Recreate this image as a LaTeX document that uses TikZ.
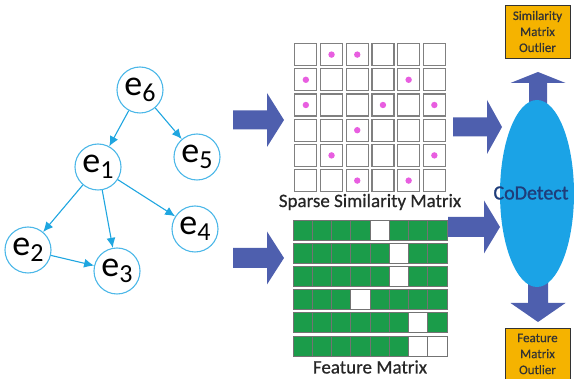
\documentclass[tikz,border=0pt]{standalone}
\usepackage{fontspec}
\setmainfont{Carlito}
\usetikzlibrary{arrows.meta,shapes.geometric}
\definecolor{gcirc}{HTML}{4DB8E8}
\definecolor{garr}{HTML}{1FA6E0}
\definecolor{barrow}{HTML}{4E5FAE}
\definecolor{ellfill}{HTML}{1BA3E6}
\definecolor{codet}{HTML}{1F3D7A}
\definecolor{orng}{HTML}{F5B300}
\definecolor{fgreen}{HTML}{1B9C4A}
\definecolor{dotc}{HTML}{E85EE0}
\definecolor{cellb}{HTML}{808080}
\newcommand\entlab[1]{{\fontsize{36}{36}\selectfont e}\raisebox{-6pt}{\fontsize{26}{26}\selectfont #1}}
\newcommand\harrow[6]{\fill[barrow] ({#1},{#4-#5}) -- ({#2},{#4-#5}) -- ({#2},{#4-#6}) -- ({#3},{#4}) -- ({#2},{#4+#6}) -- ({#2},{#4+#5}) -- ({#1},{#4+#5}) -- cycle;}
\newcommand\varrow[6]{\fill[barrow] ({#4-#5},{#1}) -- ({#4-#5},{#2}) -- ({#4-#6},{#2}) -- ({#4},{#3}) -- ({#4+#6},{#2}) -- ({#4+#5},{#2}) -- ({#4+#5},{#1}) -- cycle;}
\begin{document}
\begin{tikzpicture}[x=1pt,y=-1pt,
  ent/.style={circle,draw=gcirc,line width=1.1pt,fill=white,minimum size=46pt,inner sep=0pt},
  garrow/.style={draw=garr,line width=1.1pt,-{Latex[length=10pt,width=9pt]}},
  scell/.style={rectangle,draw=cellb,line width=1.2pt,fill=white,minimum size=22pt,inner sep=0pt},
  fcell/.style={rectangle,draw=black!55,line width=0.6pt,fill=fgreen,minimum width=19.25pt,minimum height=20pt,inner sep=0pt},
  wcell/.style={rectangle,draw=black!55,line width=0.6pt,fill=white,minimum width=19.25pt,minimum height=20pt,inner sep=0pt},
  lab/.style={font=\fontsize{19}{19}\selectfont\addfontfeatures{FakeBold=0.6},text=black!85,inner sep=0pt},
  obox/.style={rectangle,draw=black!80,line width=0.8pt,fill=orng,minimum width=65pt,align=center,
    font=\fontsize{13}{16}\selectfont\addfontfeatures{FakeBold=0.6},text=black!80,inner sep=0pt}]
\useasboundingbox (0,0) rectangle (574,379);
% graph
\node[ent] (e6) at (140,90) {\entlab{6}};
\node[ent] (e5) at (197,157) {\entlab{5}};
\node[ent] (e1) at (98,167) {\entlab{1}};
\node[ent] (e4) at (195,229) {\entlab{4}};
\node[ent] (e2) at (28,250) {\entlab{2}};
\node[ent] (e3) at (117,271) {\entlab{3}};
\draw[garrow] (e6) -- (e1);
\draw[garrow] (e6) -- (e5);
\draw[garrow] (e1) -- (e2);
\draw[garrow] (e1) -- (e3);
\draw[garrow] (e1) -- (e4);
\draw[garrow] (e2) -- (e3);
% similarity matrix
\foreach \r in {1,...,6}
  \foreach \c in {1,...,6}
    \node[scell] (s\r\c) at ({293+25.7*(\c-0.5)},{42+25.2*(\r-0.5)}) {};
\foreach \r/\c in {1/2,1/3,2/1,2/5,3/1,3/4,3/6,4/3,5/2,5/6,6/3,6/5}
  \fill[dotc] (s\r\c) circle (3.2);
\node[lab] (slab) at (370,202) {Sparse Similarity Matrix};
% feature matrix
\foreach \r in {1,...,6}
  \foreach \c in {1,...,8}
    \node[fcell] (f\r\c) at ({293+19.25*(\c-0.5)},{230+23.2*(\r-1)}) {};
\foreach \r/\c in {1/5,2/6,3/6,4/4,5/7,6/7,6/8}
  \node[wcell] (w\r\c) at (f\r\c) {};
\node[lab] (flab) at (370,367) {Feature Matrix};
% block arrows
\harrow{233}{267}{284}{120}{9.5}{27}
\harrow{233}{267}{284}{258}{10}{26.5}
\harrow{453}{487}{502}{127}{9.5}{27}
\harrow{448}{484}{500}{227}{10}{26.5}
\varrow{110}{83}{72}{538}{9}{27.5}
\varrow{280}{303}{322}{538}{10}{27.5}
% CoDetect
\node[ellipse,fill=ellfill,minimum width=74pt,minimum height=187pt,inner sep=0pt] (cod) at (537,193.5) {};
\node[font=\fontsize{20}{20}\selectfont\addfontfeatures{FakeBold=1.2},text=codet,inner sep=0pt] (codt) at (531,193) {CoDetect};
% outputs
\node[obox,minimum height=53pt] (o1) at (537.5,31.5) {Similarity\\Matrix\\Outlier};
\node[obox,minimum height=52pt] (o2) at (537.5,354) {Feature\\Matrix\\Outlier};
\end{tikzpicture}
\end{document}
